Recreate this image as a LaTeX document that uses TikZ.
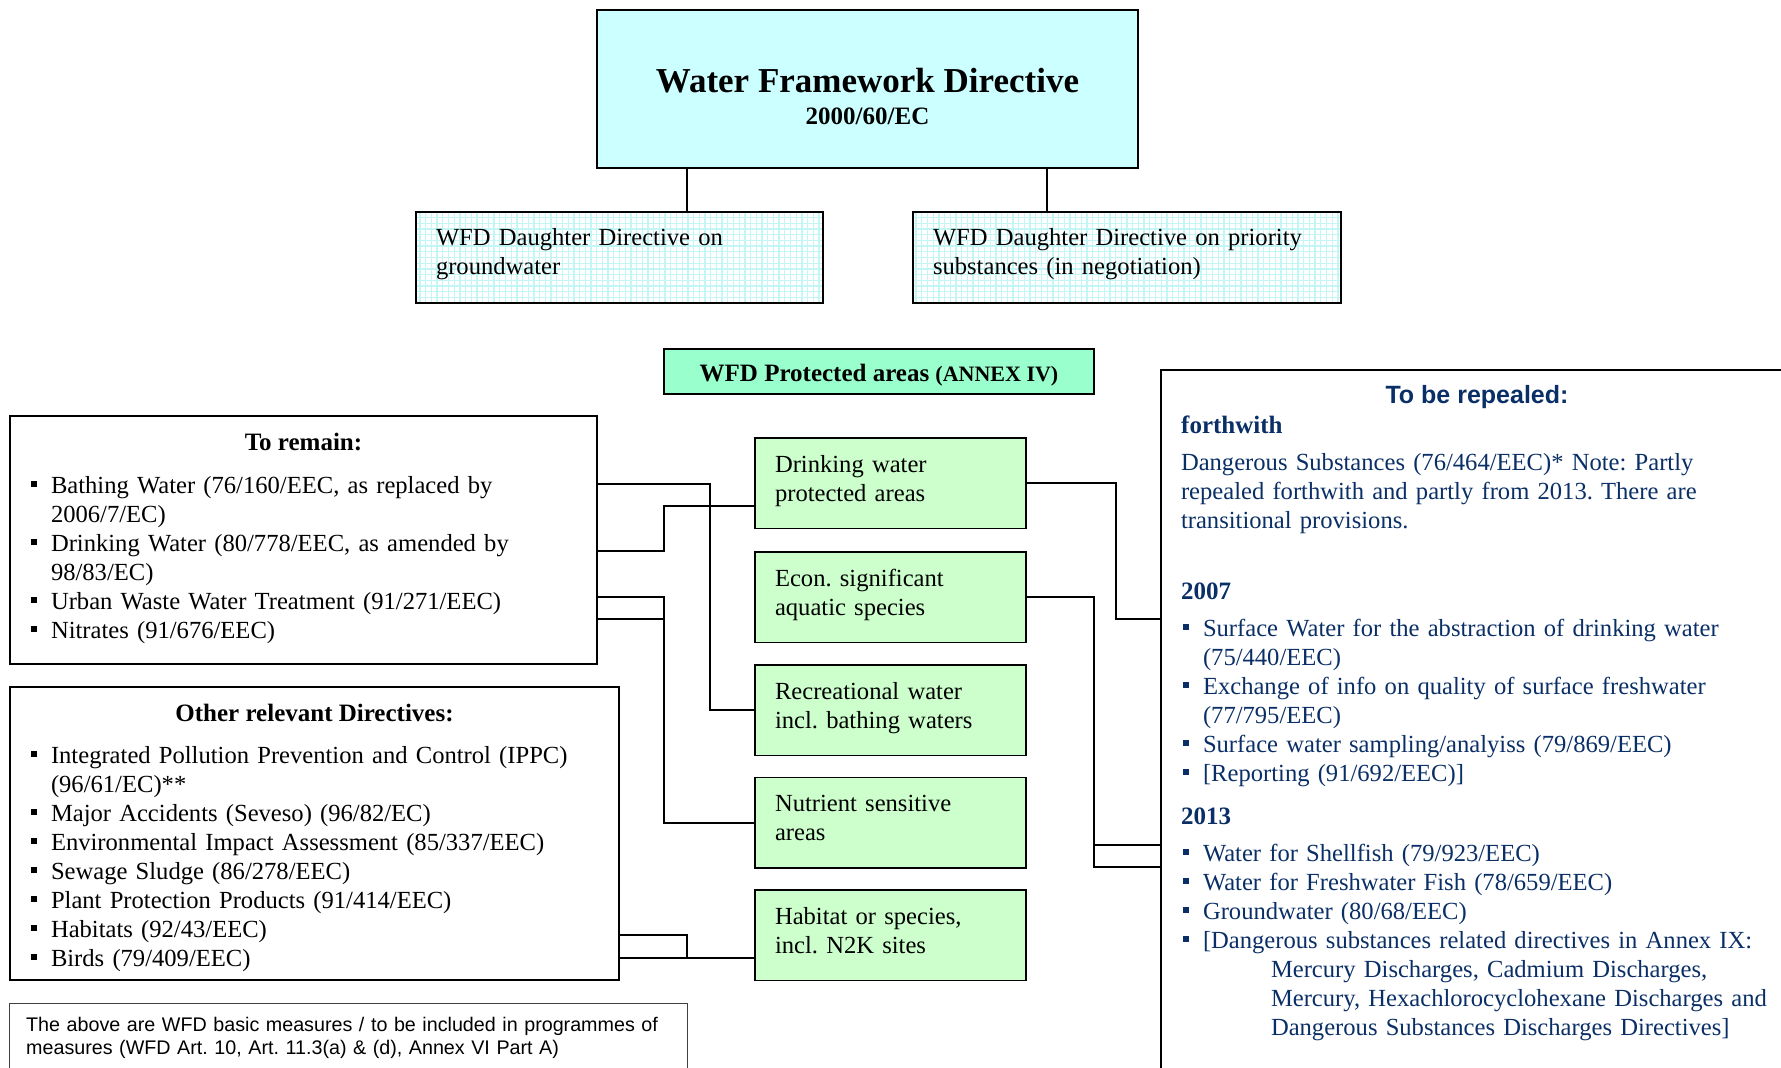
\documentclass[tikz,border=0pt]{standalone}
\usepackage{fontspec}
\setmainfont{Liberation Serif}
\setsansfont{Liberation Sans}
\frenchspacing
\definecolor{wfdcyan}{HTML}{CCFFFF}
\definecolor{protgreen}{HTML}{99FFCC}
\definecolor{boxgreen}{HTML}{CCFFCC}
\definecolor{navyblue}{HTML}{0A2F66}
\definecolor{gridcyan}{HTML}{C4F6F6}
\newcommand{\topst}{\rule{0pt}{20pt}}
\newcommand{\bsq}{\rule[6pt]{6pt}{6pt}}
\newcommand{\bitem}[1]{\hangindent=20pt\hangafter=1\noindent\makebox[20pt][l]{\bsq}\topst#1\par}
\begin{document}
\begin{tikzpicture}[x=1pt,y=-1pt,
  box/.style={draw=black,line width=1.8pt,anchor=north west,inner sep=0pt,outer sep=0pt},
  conn/.style={draw=black,line width=1.6pt},
  txt/.style={anchor=north west,inner sep=0pt,outer sep=0pt,align=left,text width=#1,font=\frenchspacing\fontsize{24.6}{29}\selectfont},
  gridbox/.style={box,fill=white,path picture={\draw[gridcyan,line width=1.3pt,step=5.7pt]
     (path picture bounding box.south west) grid (path picture bounding box.north east);}},
  greenbox/.style={box,fill=boxgreen,minimum width=271,minimum height=90.5}]
\useasboundingbox (0,0) rectangle (1781,1068);

% top
\node[box,fill=wfdcyan,minimum width=541,minimum height=158] (wfd) at (597,10) {};
\node[anchor=base,inner sep=0pt,font=\fontsize{35}{40}\selectfont\bfseries] (wfdt) at (867.5,92) {Water Framework Directive};
\node[anchor=base,inner sep=0pt,font=\fontsize{25}{29}\selectfont\bfseries] (wfds) at (867.5,124) {2000/60/EC};

\node[gridbox,minimum width=407,minimum height=91] (gw) at (416,212) {};
\node[txt=380] (gwt) at (436,225) {\topst WFD Daughter Directive on\newline groundwater};
\node[gridbox,minimum width=428,minimum height=91] (ps) at (913,212) {};
\node[txt=400] (pst) at (933,225) {\topst WFD Daughter Directive on priority\newline substances (in negotiation)};

\draw[conn] (wfd.south -| 687,0) -- (gw.north -| 687,0);
\draw[conn] (wfd.south -| 1047,0) -- (ps.north -| 1047,0);

% protected areas
\node[box,fill=protgreen,minimum width=430,minimum height=45] (prot) at (664,349) {};
\node[anchor=base,inner sep=0pt,font=\bfseries] (prott) at (879,381) {\fontsize{25}{29}\selectfont WFD Protected areas \fontsize{22}{26}\selectfont(ANNEX IV)};

% green boxes
\node[greenbox] (dwpa) at (755,438) {};
\node[txt=250] (dwpat) at (775,452) {\topst Drinking water\newline protected areas};
\node[greenbox] (econ) at (755,552) {};
\node[txt=250] (econt) at (775,566) {\topst Econ. significant\newline aquatic species};
\node[greenbox] (recr) at (755,665) {};
\node[txt=250] (recrt) at (775,679) {\topst Recreational water\newline incl. bathing waters};
\node[greenbox] (nutr) at (755,777.5) {};
\node[txt=250] (nutrt) at (775,791.5) {\topst Nutrient sensitive\newline areas};
\node[greenbox] (hab) at (755,890) {};
\node[txt=250] (habt) at (775,904) {\topst Habitat or species,\newline incl. N2K sites};

% To remain
\node[box,minimum width=587,minimum height=248] (remain) at (10,416) {};
\node[anchor=base,inner sep=0pt,font=\fontsize{25}{29}\selectfont\bfseries] (remaint) at (303.5,450) {To remain:};
\node[txt=560] (remainl) at (31,473) {%
\bitem{Bathing Water (76/160/EEC, as replaced by\newline 2006/7/EC)}%
\bitem{Drinking Water (80/778/EEC, as amended by\newline 98/83/EC)}%
\bitem{Urban Waste Water Treatment (91/271/EEC)}%
\bitem{Nitrates (91/676/EEC)}};

% Other relevant
\node[box,minimum width=609,minimum height=293] (other) at (10,687) {};
\node[anchor=base,inner sep=0pt,font=\fontsize{25}{29}\selectfont\bfseries] (othert) at (314.5,721) {Other relevant Directives:};
\node[txt=580] (otherl) at (31,743) {%
\bitem{Integrated Pollution Prevention and Control (IPPC)\newline (96/61/EC)**}%
\bitem{Major Accidents (Seveso) (96/82/EC)}%
\bitem{Environmental Impact Assessment (85/337/EEC)}%
\bitem{Sewage Sludge (86/278/EEC)}%
\bitem{Plant Protection Products (91/414/EEC)}%
\bitem{Habitats (92/43/EEC)}%
\bitem{Birds (79/409/EEC)}};

% note
\node[box,draw=black!75,line width=1pt,minimum width=678,minimum height=120] (note) at (9,1003) {};
\node[anchor=north west,inner sep=0pt,align=left,text width=660,font=\frenchspacing\sffamily\fontsize{19.7}{23}\selectfont] (notet) at (26,1015) {\rule{0pt}{16pt}The above are WFD basic measures / to be included in programmes of\newline measures (WFD Art. 10, Art. 11.3(a) \& (d), Annex VI Part A)};

% To be repealed
\node[box,minimum width=800,minimum height=800] (rep) at (1161,370) {};
\node[anchor=base,inner sep=0pt,text=navyblue,font=\sffamily\bfseries\fontsize{25}{29}\selectfont] (rept) at (1477,403) {To be repealed:};
\node[anchor=base west,inner sep=0pt,text=navyblue,font=\bfseries\fontsize{25}{29}\selectfont] (forth) at (1181,433) {forthwith};
\node[txt=600,text=navyblue] (dang) at (1181,450) {\topst Dangerous Substances (76/464/EEC)* Note: Partly\newline repealed forthwith and partly from 2013. There are\newline transitional provisions.};
\node[anchor=base west,inner sep=0pt,text=navyblue,font=\bfseries\fontsize{25}{29}\selectfont] (y2007) at (1181,599) {2007};
\node[txt=600,text=navyblue] (l2007) at (1183,616) {%
\bitem{Surface Water for the abstraction of drinking water\newline (75/440/EEC)}%
\bitem{Exchange of info on quality of surface freshwater\newline (77/795/EEC)}%
\bitem{Surface water sampling/analyiss (79/869/EEC)}%
\bitem{[Reporting (91/692/EEC)]}};
\node[anchor=base west,inner sep=0pt,text=navyblue,font=\bfseries\fontsize{25}{29}\selectfont] (y2013) at (1181,824) {2013};
\node[txt=620,text=navyblue] (l2013) at (1183,841) {%
\bitem{Water for Shellfish (79/923/EEC)}%
\bitem{Water for Freshwater Fish (78/659/EEC)}%
\bitem{Groundwater (80/68/EEC)}%
\bitem{[Dangerous substances related directives in Annex IX:\newline\hspace*{68pt}Mercury Discharges, Cadmium Discharges,\newline\hspace*{68pt}Mercury, Hexachlorocyclohexane Discharges and\newline\hspace*{68pt}Dangerous Substances Discharges Directives]}};

% connectors
\coordinate (xA) at (710,0);
\coordinate (xB) at (664,0);
\coordinate (xE) at (687,0);
\coordinate (xG) at (1116,0);
\coordinate (xH) at (1094,0);
\draw[conn] (remain.east |- 0,484) -| (xA |- recr.west) -- (recr.west);
\draw[conn] (remain.east |- 0,551) -| (xB |- 0,506) -- (dwpa.west |- 0,506);
\draw[conn] (remain.east |- 0,597) -| (xB |- nutr.west) -- (nutr.west);
\draw[conn] (remain.east |- 0,619) -- (xB |- 0,619);
\draw[conn] (other.east |- 0,935) -| (xE |- 0,958);
\draw[conn] (other.east |- 0,958) -- (hab.west |- 0,958);
\draw[conn] (dwpa.east) -| (xG |- 0,619) -- (rep.west |- 0,619);
\draw[conn] (econ.east) -| (xH |- 0,867) -- (rep.west |- 0,867);
\draw[conn] (xH |- 0,845) -- (rep.west |- 0,845);
\end{tikzpicture}
\end{document}
